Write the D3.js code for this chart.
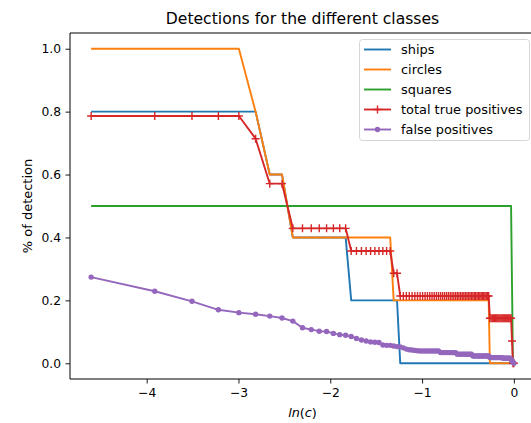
<!DOCTYPE html>
<html>
<head>
<meta charset="utf-8">
<script src="https://cdn.jsdelivr.net/npm/d3@7"></script>
<style>
  html, body { margin: 0; padding: 0; background: #fff; }
  svg { display: block; font-family: "DejaVu Sans", sans-serif; }
</style>
</head>
<body>
<svg id="chart" width="531" height="423"></svg>
<script>
// threshold c (x axis shows ln(c))
const cValues = [
  0.01,0.02,0.03,0.04,0.05,0.06,0.07,0.08,0.09,0.10,
  0.11,0.12,0.13,0.14,0.15,0.16,0.17,0.18,0.19,0.20,
  0.21,0.22,0.23,0.24,0.25,0.26,0.27,0.28,0.29,0.30,
  0.31,0.32,0.33,0.34,0.35,0.36,0.37,0.38,0.39,0.40,
  0.41,0.42,0.43,0.44,0.45,0.46,0.47,0.48,0.49,0.50,
  0.51,0.52,0.53,0.54,0.55,0.56,0.57,0.58,0.59,0.60,
  0.61,0.62,0.63,0.64,0.65,0.66,0.67,0.68,0.69,0.70,
  0.71,0.72,0.73,0.74,0.75,0.76,0.77,0.78,0.79,0.80,
  0.81,0.82,0.83,0.84,0.85,0.86,0.87,0.88,0.89,0.90,
  0.91,0.92,0.93,0.94,0.95,0.96,0.97,0.98,0.99,1.00
];
const ships = [
  0.8,0.8,0.8,0.8,0.8,0.8,0.6,0.6,0.4,0.4,
  0.4,0.4,0.4,0.4,0.4,0.4,0.2,0.2,0.2,0.2,
  0.2,0.2,0.2,0.2,0.2,0.2,0.2,0.2,0,0,
  0,0,0,0,0,0,0,0,0,0,
  0,0,0,0,0,0,0,0,0,0,
  0,0,0,0,0,0,0,0,0,0,
  0,0,0,0,0,0,0,0,0,0,
  0,0,0,0,0,0,0,0,0,0,
  0,0,0,0,0,0,0,0,0,0,
  0,0,0,0,0,0,0,0,0,0
];
const circles = [
  1.0,1.0,1.0,1.0,1.0,0.8,0.6,0.6,0.4,0.4,
  0.4,0.4,0.4,0.4,0.4,0.4,0.4,0.4,0.4,0.4,
  0.4,0.4,0.4,0.4,0.4,0.4,0.2,0.2,0.2,0.2,
  0.2,0.2,0.2,0.2,0.2,0.2,0.2,0.2,0.2,0.2,
  0.2,0.2,0.2,0.2,0.2,0.2,0.2,0.2,0.2,0.2,
  0.2,0.2,0.2,0.2,0.2,0.2,0.2,0.2,0.2,0.2,
  0.2,0.2,0.2,0.2,0.2,0.2,0.2,0.2,0.2,0.2,
  0.2,0.2,0.2,0.2,0.2,0.2,0,0,0,0,
  0,0,0,0,0,0,0,0,0,0,
  0,0,0,0,0,0,0,0,0,0
];
const squares = [
  0.5,0.5,0.5,0.5,0.5,0.5,0.5,0.5,0.5,0.5,
  0.5,0.5,0.5,0.5,0.5,0.5,0.5,0.5,0.5,0.5,
  0.5,0.5,0.5,0.5,0.5,0.5,0.5,0.5,0.5,0.5,
  0.5,0.5,0.5,0.5,0.5,0.5,0.5,0.5,0.5,0.5,
  0.5,0.5,0.5,0.5,0.5,0.5,0.5,0.5,0.5,0.5,
  0.5,0.5,0.5,0.5,0.5,0.5,0.5,0.5,0.5,0.5,
  0.5,0.5,0.5,0.5,0.5,0.5,0.5,0.5,0.5,0.5,
  0.5,0.5,0.5,0.5,0.5,0.5,0.5,0.5,0.5,0.5,
  0.5,0.5,0.5,0.5,0.5,0.5,0.5,0.5,0.5,0.5,
  0.5,0.5,0.5,0.5,0.5,0.5,0.5,0.25,0,0
];
const totalTruePositives = [
  0.786,0.786,0.786,0.786,0.786,0.714,0.571,0.571,0.429,0.429,
  0.429,0.429,0.429,0.429,0.429,0.429,0.357,0.357,0.357,0.357,
  0.357,0.357,0.357,0.357,0.357,0.357,0.286,0.286,0.214,0.214,
  0.214,0.214,0.214,0.214,0.214,0.214,0.214,0.214,0.214,0.214,
  0.214,0.214,0.214,0.214,0.214,0.214,0.214,0.214,0.214,0.214,
  0.214,0.214,0.214,0.214,0.214,0.214,0.214,0.214,0.214,0.214,
  0.214,0.214,0.214,0.214,0.214,0.214,0.214,0.214,0.214,0.214,
  0.214,0.214,0.214,0.214,0.214,0.214,0.143,0.143,0.143,0.143,
  0.143,0.143,0.143,0.143,0.143,0.143,0.143,0.143,0.143,0.143,
  0.143,0.143,0.143,0.143,0.143,0.143,0.143,0.071,0,0
];
const falsePositives = [
  0.274,0.229,0.197,0.170,0.161,0.156,0.150,0.144,0.134,0.113,
  0.107,0.102,0.101,0.095,0.091,0.089,0.085,0.079,0.074,0.071,
  0.068,0.067,0.066,0.058,0.057,0.057,0.055,0.053,0.052,0.049,
  0.045,0.043,0.042,0.041,0.040,0.039,0.039,0.039,0.039,0.039,
  0.039,0.039,0.039,0.039,0.034,0.034,0.034,0.034,0.034,0.034,
  0.034,0.034,0.034,0.029,0.029,0.029,0.029,0.029,0.029,0.029,
  0.029,0.029,0.029,0.023,0.023,0.023,0.023,0.023,0.023,0.023,
  0.023,0.023,0.023,0.023,0.023,0.023,0.018,0.018,0.018,0.018,
  0.018,0.018,0.018,0.018,0.018,0.018,0.018,0.018,0.016,0.016,
  0.016,0.016,0.016,0.016,0.016,0.016,0.012,0.008,0.004,0.000
];
const seriesNames = ["ships", "circles", "squares", "total true positives", "false positives"];
const seriesColors = ["#1f77b4", "#ff7f0e", "#2ca02c", "#d62728", "#9467bd"];
const seriesMarkers = ["none", "none", "none", "plus", "dot"];
const xTickLabels = [-4, -3, -2, -1, 0];
const yTickLabels = [0.0, 0.2, 0.4, 0.6, 0.8, 1.0];
const titleText = "Detections for the different classes";
const yLabelText = "% of detection";

const seriesValues = [ships, circles, squares, totalTruePositives, falsePositives];

const svg = d3.select("#chart");
const plot = { left: 70, top: 33, right: 535, bottom: 379 };

// ln(c) axis: log scale with base e, data in c
const lnMin = Math.log(d3.min(cValues)), lnMax = Math.log(d3.max(cValues));
const pad = (lnMax - lnMin) * 0.05;
const x = d3.scaleLog().base(Math.E)
  .domain([Math.exp(lnMin - pad), Math.exp(lnMax + pad)])
  .range([plot.left, plot.right]);
const y = d3.scaleLinear().domain([-0.05, 1.05]).range([plot.bottom, plot.top]);

svg.append("defs").append("clipPath").attr("id", "clip")
  .append("rect").attr("x", plot.left).attr("y", plot.top)
  .attr("width", plot.right - plot.left).attr("height", plot.bottom - plot.top);

const fmtMinus = v => String(v).replace("-", "\u2212");

// axes
const xAxis = d3.axisBottom(x)
  .tickValues(xTickLabels.map(k => Math.exp(k)))
  .tickFormat((d, i) => fmtMinus(xTickLabels[i]))
  .tickSize(4.5).tickPadding(4.5);
const yAxis = d3.axisLeft(y)
  .tickValues(yTickLabels)
  .tickFormat(d3.format(".1f"))
  .tickSize(4.5).tickPadding(4.5);

const gx = svg.append("g").attr("transform", `translate(0,${plot.bottom})`).call(xAxis);
const gy = svg.append("g").attr("transform", `translate(${plot.left},0)`).call(yAxis);
[gx, gy].forEach(g => {
  g.select(".domain").remove();
  g.selectAll(".tick line").attr("stroke", "#000").attr("stroke-width", 0.9);
  g.selectAll(".tick text").attr("fill", "#000")
    .style("font-family", "DejaVu Sans").style("font-size", "12.3px");
});

// lines
const line = d3.line().x(d => x(d[0])).y(d => y(d[1]));
const gLines = svg.append("g").attr("clip-path", "url(#clip)");

seriesValues.forEach((vals, si) => {
  const pts = cValues.map((c, i) => [c, vals[i]]);
  const color = seriesColors[si];
  gLines.append("path").datum(pts)
    .attr("fill", "none").attr("stroke", color)
    .attr("stroke-width", 1.9).attr("stroke-linejoin", "round")
    .attr("d", line);
  if (seriesMarkers[si] === "plus") {
    gLines.append("g").selectAll("path").data(pts).join("path")
      .attr("d", d => {
        const px = x(d[0]), py = y(d[1]), r = 4;
        return `M${px - r},${py}H${px + r}M${px},${py - r}V${py + r}`;
      })
      .attr("stroke", color).attr("stroke-width", 1.4).attr("fill", "none");
  } else if (seriesMarkers[si] === "dot") {
    gLines.append("g").selectAll("circle").data(pts).join("circle")
      .attr("cx", d => x(d[0])).attr("cy", d => y(d[1])).attr("r", 2.7)
      .attr("fill", color);
  }
});

// spines
const spine = svg.append("g").attr("stroke", "#000").attr("stroke-width", 1).attr("fill", "none");
spine.append("line").attr("x1", plot.left).attr("x2", plot.left).attr("y1", plot.top).attr("y2", plot.bottom);
spine.append("line").attr("x1", plot.left).attr("x2", plot.right).attr("y1", plot.bottom).attr("y2", plot.bottom);
spine.append("line").attr("x1", plot.left).attr("x2", plot.right).attr("y1", plot.top).attr("y2", plot.top);
spine.append("line").attr("x1", plot.right).attr("x2", plot.right).attr("y1", plot.top).attr("y2", plot.bottom);

// title and labels
const cx = (plot.left + plot.right) / 2;
svg.append("text").attr("x", cx).attr("y", 24).attr("text-anchor", "middle")
  .style("font-size", "15.6px").attr("fill", "#000").text(titleText);
const xl = svg.append("text").attr("x", cx).attr("y", 417).attr("text-anchor", "middle")
  .style("font-size", "12.8px").attr("fill", "#000");
xl.append("tspan").style("font-style", "italic").text("ln");
xl.append("tspan").text("(");
xl.append("tspan").style("font-style", "italic").text("c");
xl.append("tspan").text(")");
svg.append("text")
  .attr("transform", `translate(32,${(plot.top + plot.bottom) / 2}) rotate(-90)`)
  .attr("text-anchor", "middle").style("font-size", "13px").attr("fill", "#000")
  .text(yLabelText);

// legend
const lg = svg.append("g");
lg.append("rect").attr("x", 359.5).attr("y", 39.5).attr("width", 170).attr("height", 101)
  .attr("rx", 3).attr("fill", "#fff").attr("fill-opacity", 0.8)
  .attr("stroke", "#d6d6d6").attr("stroke-width", 1);
seriesNames.forEach((name, i) => {
  const yy = 49.5 + i * 20;
  const color = seriesColors[i];
  lg.append("line").attr("x1", 364).attr("x2", 391).attr("y1", yy).attr("y2", yy)
    .attr("stroke", color).attr("stroke-width", 1.9);
  if (seriesMarkers[i] === "plus") {
    lg.append("path").attr("d", `M${377.5 - 4},${yy}H${377.5 + 4}M${377.5},${yy - 4}V${yy + 4}`)
      .attr("stroke", color).attr("stroke-width", 1.4);
  } else if (seriesMarkers[i] === "dot") {
    lg.append("circle").attr("cx", 377.5).attr("cy", yy).attr("r", 2.7).attr("fill", color);
  }
  lg.append("text").attr("x", 401).attr("y", yy).attr("dy", "0.36em")
    .style("font-size", "12.9px").attr("fill", "#000").text(name);
});
</script>
</body>
</html>
